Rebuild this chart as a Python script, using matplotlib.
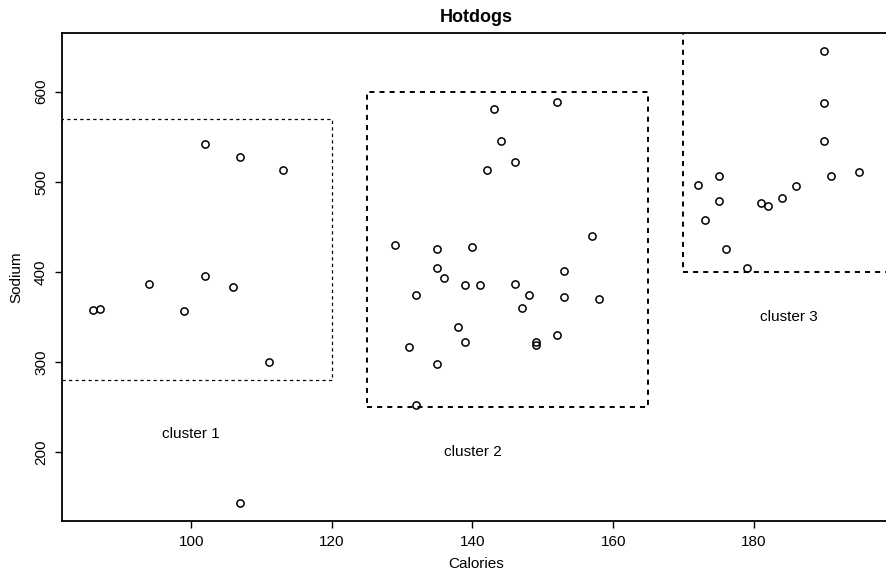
import matplotlib
matplotlib.use("Agg")
import matplotlib.pyplot as plt
from matplotlib.patches import Rectangle

plt.rcParams['font.family'] = ['Liberation Sans', 'DejaVu Sans']

# Hotdog data (Calories, Sodium)
beef_cal = [186, 181, 176, 149, 184, 190, 158, 139, 175, 148, 152, 111, 141, 153, 190, 157, 131, 149, 135, 132]
beef_sod = [495, 477, 425, 322, 482, 587, 370, 322, 479, 375, 330, 300, 386, 401, 645, 440, 317, 319, 298, 253]
meat_cal = [173, 191, 182, 190, 172, 147, 146, 139, 175, 136, 179, 153, 107, 195, 135, 140, 138]
meat_sod = [458, 506, 473, 545, 496, 360, 387, 386, 507, 393, 405, 372, 144, 511, 405, 428, 339]
poultry_cal = [129, 132, 102, 106, 94, 102, 87, 99, 107, 113, 135, 142, 86, 143, 152, 146, 144]
poultry_sod = [430, 375, 396, 383, 387, 542, 359, 357, 528, 513, 426, 513, 358, 581, 588, 522, 545]

calories = beef_cal + meat_cal + poultry_cal
sodium = beef_sod + meat_sod + poultry_sod

# cluster boxes: (x0, x1, y0, y1)
box_x0 = [78, 125, 170]
box_x1 = [120, 165, 215]
box_y0 = [280, 250, 400]
box_y1 = [570, 600, 700]
box_lw = [0.9, 1.4, 1.4]

label_text = ["cluster 1", "cluster 2", "cluster 3"]
label_x = [100, 140, 185]
label_y = [220, 200, 350]

xticks = [100, 120, 140, 160, 180]
yticks = [200, 300, 400, 500, 600]

fig = plt.figure(figsize=(8.87, 5.77), dpi=100)
ax = fig.add_axes([62/887, 1 - 521/577, (890-62)/887, (521-33)/577])

ax.plot(calories, sodium, linestyle='none', marker='o', markersize=5.2,
        markerfacecolor='none', markeredgecolor='black', markeredgewidth=1.1)

for x0, x1, y0, y1, lw in zip(box_x0, box_x1, box_y0, box_y1, box_lw):
    r = Rectangle((x0, y0), x1 - x0, y1 - y0, fill=False, edgecolor='black',
                  linewidth=lw, linestyle=(0, (2.6, 2.6)))
    ax.add_patch(r)

for t, x, y in zip(label_text, label_x, label_y):
    ax.text(x, y, t, ha='center', va='center', fontsize=11)

ax.set_xlim(81.64, 199.36)
ax.set_ylim(123.96, 665.04)
ax.set_xticks(xticks)
ax.set_yticks(yticks)
ax.set_yticklabels([str(v) for v in yticks], rotation=90, va='center')
ax.tick_params(direction='out', length=5, width=1, labelsize=11, pad=5)

for s in ax.spines.values():
    s.set_linewidth(1.3)

ax.set_xlabel("Calories", fontsize=11, labelpad=6)
ax.set_ylabel("Sodium", fontsize=11, labelpad=8)
ax.set_title("Hotdogs", fontsize=13, fontweight='bold', pad=8)

fig.savefig("out.png", dpi=100)
